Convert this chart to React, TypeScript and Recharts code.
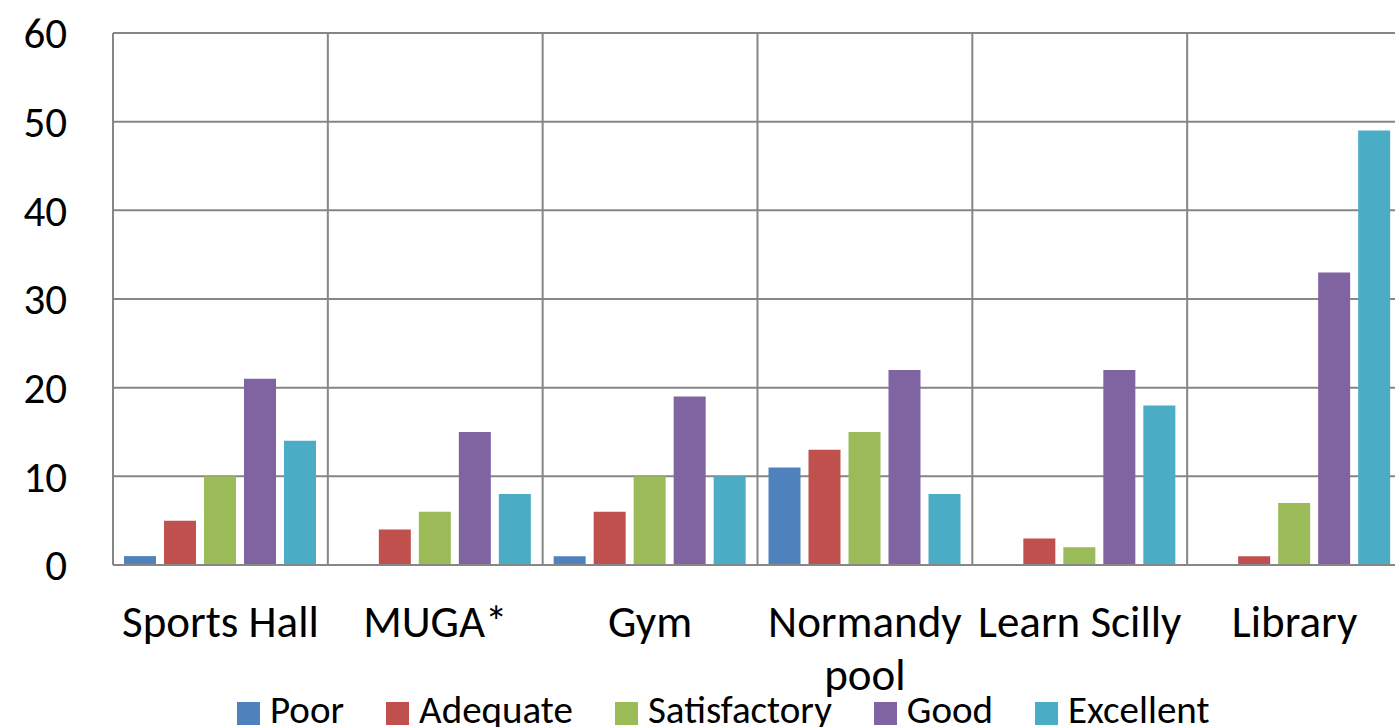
import { Bar, BarChart, CartesianGrid, Legend, XAxis, YAxis } from "recharts";

const categories = ["Sports Hall", "MUGA*", "Gym", "Normandy pool", "Learn Scilly", "Library"];
const poor = [1, 0, 1, 11, 0, 0];
const adequate = [5, 4, 6, 13, 3, 1];
const satisfactory = [10, 6, 10, 15, 2, 7];
const good = [21, 15, 19, 22, 22, 33];
const excellent = [14, 8, 10, 8, 18, 49];
const yTicks = [0, 10, 20, 30, 40, 50, 60];

const series = [
  { key: "poor", name: "Poor", color: "#4F81BD", values: poor },
  { key: "adequate", name: "Adequate", color: "#C0504D", values: adequate },
  { key: "satisfactory", name: "Satisfactory", color: "#9BBB59", values: satisfactory },
  { key: "good", name: "Good", color: "#8064A2", values: good },
  { key: "excellent", name: "Excellent", color: "#4BACC6", values: excellent },
];

const data = categories.map((name, i) => {
  const row: Record<string, string | number> = { name };
  series.forEach((s) => (row[s.key] = s.values[i]));
  return row;
});

const FONT = "Carlito, Lato, sans-serif";
const GRID = "#868686";
const LABEL_SIZE = 45;

// word-wrap a category label to the width of its band
function wrapLabel(label: string, maxWidth: number): string[] {
  const ctx = document.createElement("canvas").getContext("2d");
  if (!ctx) return [label];
  ctx.font = `${LABEL_SIZE}px ${FONT}`;
  const lines: string[] = [];
  let line = "";
  label.split(" ").forEach((word) => {
    const test = line ? `${line} ${word}` : word;
    if (line && ctx.measureText(test).width > maxWidth) {
      lines.push(line);
      line = word;
    } else {
      line = test;
    }
  });
  lines.push(line);
  return lines;
}

function CategoryTick(props: any) {
  const { x, y, payload } = props;
  const lines = wrapLabel(String(payload.value), 212);
  return (
    <text x={x} y={y + 72} textAnchor="middle" fill="#000" style={{ fontSize: LABEL_SIZE, fontFamily: FONT }}>
      {lines.map((l, i) => (
        <tspan key={i} x={x} dy={i === 0 ? 0 : 53}>
          {l}
        </tspan>
      ))}
    </text>
  );
}

function LegendContent() {
  return (
    <div
      style={{
        height: 40,
        display: "flex",
        alignItems: "center",
        paddingLeft: 237,
        paddingTop: 6,
        boxSizing: "border-box",
        fontFamily: FONT,
        fontSize: 39,
        color: "#000",
        lineHeight: "40px",
      }}
    >
      {series.map((s) => (
        <div key={s.key} style={{ display: "flex", alignItems: "center", marginRight: 42 }}>
          <span style={{ width: 23, height: 23, background: s.color, marginRight: 10, marginTop: 6 }} />
          <span>{s.name}</span>
        </div>
      ))}
    </div>
  );
}

export default function App() {
  return (
    <div style={{ position: "fixed", left: 0, top: 0, width: 1395, height: 727, overflow: "hidden", background: "#fff" }}>
      <BarChart
        width={1420}
        height={727}
        data={data}
        margin={{ top: 33, right: 18, left: 0, bottom: 0 }}
        barCategoryGap={11}
        barGap={8}
      >
        <CartesianGrid
          stroke={GRID}
          strokeWidth={2}
          verticalCoordinatesGenerator={({ offset }: any) =>
            categories.map((_, i) => offset.left + (i * offset.width) / categories.length).concat(offset.left + offset.width)
          }
        />
        <XAxis
          dataKey="name"
          height={122}
          tickLine={false}
          tickSize={0}
          tickMargin={0}
          axisLine={{ stroke: GRID, strokeWidth: 2 }}
          tick={<CategoryTick />}
          interval={0}
        />
        <YAxis
          width={113}
          domain={[0, 60]}
          ticks={yTicks}
          tickLine={false}
          tickSize={0}
          tickMargin={46}
          axisLine={{ stroke: GRID, strokeWidth: 2 }}
          tick={{ fill: "#000", fontSize: 43, fontFamily: FONT }}
        />
        <Legend verticalAlign="bottom" height={40} content={<LegendContent />} wrapperStyle={{ left: 0, width: 1420 }} />
        {series.map((s) => (
          <Bar key={s.key} dataKey={s.key} name={s.name} fill={s.color} isAnimationActive={false} />
        ))}
      </BarChart>
    </div>
  );
}
